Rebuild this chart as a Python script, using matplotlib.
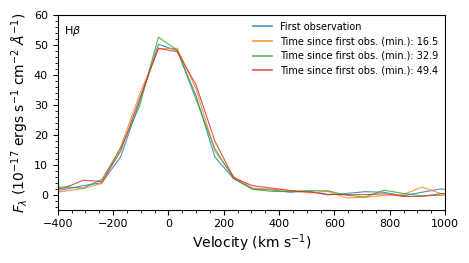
import numpy as np
import matplotlib
matplotlib.use('Agg')
import matplotlib.pyplot as plt
from matplotlib.ticker import MultipleLocator

# velocity grid of the spectrum (km/s)
velocity = [-444, -376, -308, -240, -172, -104, -36, 32, 100, 168, 236, 304, 372,
            440, 508, 576, 644, 712, 780, 848, 916, 984, 1052]

flux_first = [1.0, 1.7, 3.0, 4.0, 12.7, 31.0, 50.2, 48.1, 33.0, 12.6, 5.3, 1.9, 1.6,
              0.8, 1.2, -0.1, 0.4, 1.0, 0.8, -0.4, 0.8, 1.9, 1.2]
flux_165 = [0.5, 1.1, 2.1, 3.7, 16.0, 33.5, 48.6, 48.9, 35.3, 14.6, 6.0, 2.2, 1.8,
            1.3, 0.6, 1.1, -1.1, -0.9, -0.2, 0.0, 2.5, 0.4, 0.2]
flux_329 = [1.8, 2.6, 2.2, 5.1, 15.6, 29.6, 52.6, 48.2, 31.8, 15.3, 5.4, 1.8, 1.1,
            1.0, 1.3, 1.3, -0.2, -0.8, 1.5, 0.4, -0.4, -0.2, -0.1]
flux_494 = [1.4, 2.2, 4.8, 4.4, 14.6, 32.0, 48.9, 47.7, 36.7, 17.9, 5.6, 3.0, 2.2,
            1.4, 0.9, 0.1, 0.0, 0.0, 0.3, -0.6, -0.6, 0.3, 0.7]

labels = ['First observation',
          'Time since first obs. (min.): 16.5',
          'Time since first obs. (min.): 32.9',
          'Time since first obs. (min.): 49.4']
colors = ['#1f77b4', '#ff7f0e', '#2ca02c', '#d62728']

fig = plt.figure(figsize=(4.69, 2.63), dpi=100)
ax = fig.add_axes([0.123, 0.203, 0.826, 0.740])

for y, lab, c in zip([flux_first, flux_165, flux_329, flux_494], labels, colors):
    ax.plot(velocity, y, color=c, lw=0.8, alpha=0.8, label=lab)

ax.set_xlim(-400, 1000)
ax.set_ylim(-5, 60)
ax.xaxis.set_major_locator(MultipleLocator(200))
ax.xaxis.set_minor_locator(MultipleLocator(50))
ax.yaxis.set_major_locator(MultipleLocator(10))
ax.yaxis.set_minor_locator(MultipleLocator(2))
ax.tick_params(labelsize=8, length=3.5, width=0.8)
ax.tick_params(which='minor', length=2, width=0.6)

ax.set_xlabel(r'Velocity (km s$^{-1}$)', fontsize=10, labelpad=2)
ax.set_ylabel(r'$F_\lambda$ (10$^{-17}$ ergs s$^{-1}$ cm$^{-2}$ $\AA^{-1}$)', fontsize=10, labelpad=2)

ax.text(0.017, 0.955, r'H$\beta$', transform=ax.transAxes, fontsize=8, va='top')
leg = ax.legend(loc='upper right', frameon=False, fontsize=7, handlelength=2.0,
                borderaxespad=0.3, labelspacing=0.47)
for h in leg.get_lines():
    h.set_linewidth(1.2)

fig.savefig('out.png', dpi=100)
